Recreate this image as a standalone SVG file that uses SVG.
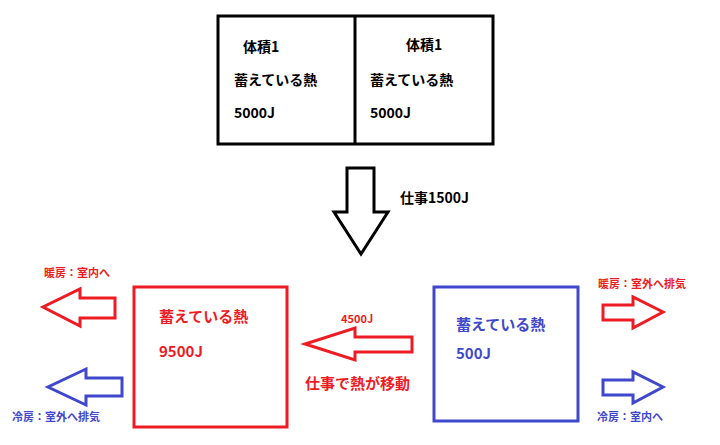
<svg xmlns="http://www.w3.org/2000/svg" width="720" height="445" viewBox="0 0 720 445">
<style>
text{font-family:"Noto Sans CJK JP","Liberation Sans",sans-serif;font-weight:bold}
.k{fill:#000;font-size:14px}
.r{fill:#ed1c24}.b{fill:#3f48cc}
.s{font-size:11px}.m{font-size:15px}
.rs{fill:none;stroke:#ed1c24;stroke-width:3}
.bs{fill:none;stroke:#3f48cc;stroke-width:3}
</style>
<rect width="720" height="445" fill="#fff"/>
<g id="top">
<rect x="218" y="16" width="275" height="128" fill="none" stroke="#000" stroke-width="3"/>
<line x1="355" y1="16" x2="355" y2="144" stroke="#000" stroke-width="3"/>
<text class="k" x="243" y="52">体積1</text>
<text class="k" x="234" y="85">蓄えている熱</text>
<text class="k" x="234" y="118">5000J</text>
<text class="k" x="406" y="50">体積1</text>
<text class="k" x="370" y="85">蓄えている熱</text>
<text class="k" x="370" y="118">5000J</text>
</g>
<g id="red">
<rect x="134" y="287" width="153" height="140" class="rs"/>
<text class="r m" x="159" y="322">蓄えている熱</text>
<text class="r m" x="159" y="357">9500J</text>
</g>
<g id="blue">
<rect x="434" y="287" width="144" height="134" class="bs"/>
<text class="b m" x="456" y="330">蓄えている熱</text>
<text class="b m" x="456" y="359">500J</text>
</g>
<g id="connectors">
<polygon points="347,168 374,168 374,212 388,212 361,254 334,212 347,212" fill="#fff" stroke="#000" stroke-width="3"/>
<polygon points="412,337 412,352 355,352 355,360 305,344 355,328 355,337" class="rs"/>
<polygon points="115,298 115,318 80,318 80,326 43,307 80,289 80,298" class="rs"/>
<polygon points="122,378 122,396 86,396 86,405 48,387 86,369 86,378" class="bs"/>
<polygon points="603,305 633,305 633,297 663,312 633,328 633,320 603,320" class="rs"/>
<polygon points="603,380 633,380 633,372 663,387 633,403 633,395 603,395" class="bs"/>
</g>
<g id="labels">
<text class="k" x="400" y="203">仕事1500J</text>
<text class="r s" x="341" y="323">4500J</text>
<text class="r m" x="305" y="389">仕事で熱が移動</text>
<text class="r s" x="44" y="277">暖房：室内へ</text>
<text class="b s" x="12" y="421">冷房：室外へ排気</text>
<text class="r s" x="598" y="288">暖房：室外へ排気</text>
<text class="b s" x="597" y="421">冷房：室内へ</text>
</g>
</svg>
